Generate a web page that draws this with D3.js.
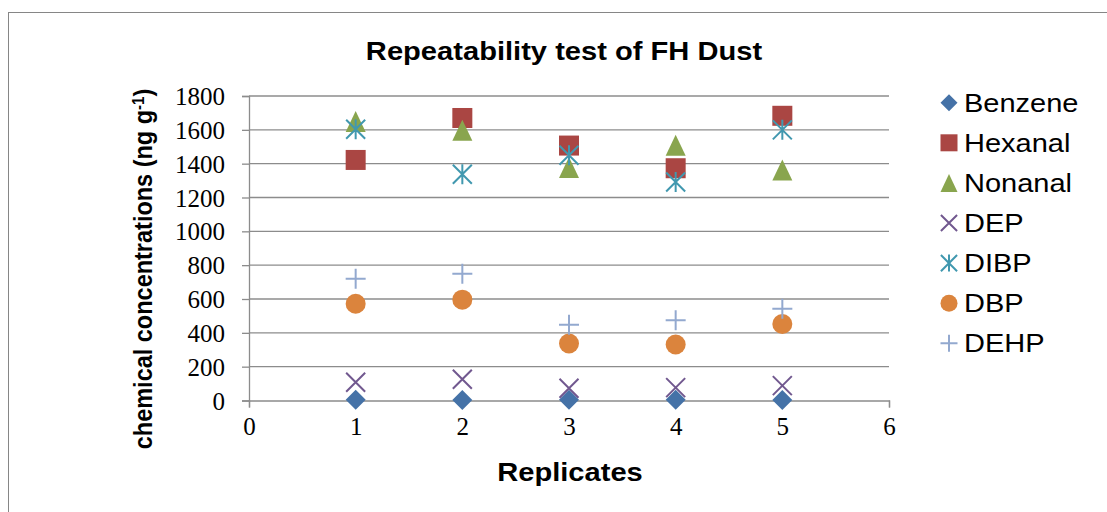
<!DOCTYPE html>
<html>
<head>
<meta charset="utf-8">
<script src="https://cdn.jsdelivr.net/npm/d3@7/dist/d3.min.js"></script>
<style>
  html, body { margin: 0; padding: 0; background: #fff; }
  svg { display: block; }
</style>
</head>
<body>
<div id="chart"></div>
<script>
// Replicate numbers and measured concentrations (ng g-1) per compound
const replicates = [1, 2, 3, 4, 5];
const benzene = [4, 3, 5, 4, 3];
const hexanal = [1422, 1670, 1507, 1373, 1683];
const nonanal = [1650, 1598, 1377, 1509, 1363];
const dep     = [108, 126, 72, 76, 88];
const dibp    = [1603, 1337, 1450, 1292, 1600];
const dbp     = [572, 596, 337, 331, 452];
const dehp    = [719, 750, 448, 475, 543];

const seriesNames = ["Benzene", "Hexanal", "Nonanal", "DEP", "DIBP", "DBP", "DEHP"];
const seriesValues = [benzene, hexanal, nonanal, dep, dibp, dbp, dehp];
const seriesColors = ["#4572A7", "#AA4643", "#89A54E", "#71588F", "#4198AF", "#DB843D", "#93A9CF"];
const seriesShapes = ["diamond", "square", "triangle", "cross", "star", "circle", "plus"];

const xTicks = [0, 1, 2, 3, 4, 5, 6];
const yTicks = [0, 200, 400, 600, 800, 1000, 1200, 1400, 1600, 1800];

const W = 1107, H = 512;
const sans = "'Liberation Sans', Arial, sans-serif";
const serif = "'Liberation Serif', 'Times New Roman', serif";
const stretch = 1.12;
const legendStretch = 1.16;

const svg = d3.select("#chart").append("svg")
  .attr("width", W).attr("height", H);

// outer chart frame
svg.append("rect")
  .attr("x", 8.5).attr("y", 12.5)
  .attr("width", W + 20).attr("height", H + 20)
  .attr("fill", "#fff").attr("stroke", "#868686").attr("stroke-width", 1);

const x = d3.scaleLinear().domain([0, 6]).range([249, 889]);
const y = d3.scaleLinear().domain([0, 1800]).range([400.5, 96]);

// horizontal gridlines
svg.append("g")
  .selectAll("line")
  .data(yTicks.filter(t => t > 0))
  .join("line")
  .attr("x1", x(0)).attr("x2", x(6))
  .attr("y1", d => y(d)).attr("y2", d => y(d))
  .attr("stroke", "#8C8C8C").attr("stroke-width", 1.3);

// y axis
const yAxis = svg.append("g")
  .attr("transform", `translate(${x(0)},0)`)
  .call(d3.axisLeft(y).tickValues(yTicks).tickSize(7).tickPadding(17).tickFormat(d3.format("d")));
yAxis.select(".domain").attr("stroke", "#8C8C8C").attr("stroke-width", 1.3);
yAxis.selectAll(".tick line").attr("stroke", "#8C8C8C").attr("stroke-width", 1.3);
yAxis.selectAll(".tick text")
  .attr("font-family", serif).attr("font-size", 25).attr("fill", "#000")
  .attr("dy", "0.34em");

// x axis
const xAxis = svg.append("g")
  .attr("transform", `translate(0,${y(0)})`)
  .call(d3.axisBottom(x).tickValues(xTicks).tickSize(7).tickPadding(10).tickFormat(d3.format("d")));
xAxis.select(".domain").attr("stroke", "#8C8C8C").attr("stroke-width", 1.3);
xAxis.selectAll(".tick line").attr("stroke", "#8C8C8C").attr("stroke-width", 1.3);
xAxis.selectAll(".tick text")
  .attr("font-family", serif).attr("font-size", 25).attr("fill", "#000")
  .attr("dy", "0.71em");

// marker drawing
function drawMarker(g, shape, color, s) {
  const h = s / 2;
  if (shape === "diamond") {
    g.append("path").attr("d", `M0,${-h}L${h},0L0,${h}L${-h},0Z`).attr("fill", color);
  } else if (shape === "square") {
    g.append("rect").attr("x", -h).attr("y", -h).attr("width", s).attr("height", s).attr("fill", color);
  } else if (shape === "triangle") {
    g.append("path").attr("d", `M0,${-h - 0.5}L${h},${h + 0.5}L${-h},${h + 0.5}Z`).attr("fill", color);
  } else if (shape === "circle") {
    g.append("circle").attr("r", h).attr("fill", color);
  } else if (shape === "cross") {
    const k = h * 0.95;
    g.append("path").attr("d", `M${-k},${-k}L${k},${k}M${k},${-k}L${-k},${k}`)
      .attr("stroke", color).attr("stroke-width", 2).attr("fill", "none");
  } else if (shape === "star") {
    const k = h * 0.95;
    g.append("path").attr("d", `M${-k},${-k}L${k},${k}M${k},${-k}L${-k},${k}M0,${-h}L0,${h}`)
      .attr("stroke", color).attr("stroke-width", 2).attr("fill", "none");
  } else if (shape === "plus") {
    g.append("path").attr("d", `M${-h},0L${h},0M0,${-h}L0,${h}`)
      .attr("stroke", color).attr("stroke-width", 2).attr("fill", "none");
  }
}

// data markers
seriesNames.forEach((name, i) => {
  const grp = svg.append("g").attr("class", "series");
  seriesValues[i].forEach((v, j) => {
    const m = grp.append("g").attr("transform", `translate(${x(replicates[j])},${y(v)})`);
    drawMarker(m, seriesShapes[i], seriesColors[i], 20);
  });
});

// legend
const legend = svg.append("g");
seriesNames.forEach((name, i) => {
  const cy = 102.7 + i * 40.1;
  const m = legend.append("g").attr("transform", `translate(949,${cy})`);
  drawMarker(m, seriesShapes[i], seriesColors[i], 17);
  legend.append("text")
    .attr("transform", `translate(964,${cy + 9}) scale(${legendStretch},1)`)
    .attr("font-family", sans).attr("font-size", 25).attr("fill", "#000")
    .text(name);
});

// title
svg.append("text")
  .attr("transform", `translate(564,60) scale(${stretch},1)`)
  .attr("text-anchor", "middle")
  .attr("font-family", sans).attr("font-size", 26).attr("font-weight", "bold")
  .text("Repeatability test of FH Dust");

// x axis title
svg.append("text")
  .attr("transform", `translate(570,481) scale(${stretch},1)`)
  .attr("text-anchor", "middle")
  .attr("font-family", sans).attr("font-size", 26).attr("font-weight", "bold")
  .text("Replicates");

// y axis title
const yTitle = svg.append("text")
  .attr("transform", `translate(152,269) rotate(-90) scale(1,${stretch})`)
  .attr("text-anchor", "middle")
  .attr("font-family", sans).attr("font-size", 23.5).attr("font-weight", "bold");
yTitle.append("tspan").text("chemical concentrations (ng g");
yTitle.append("tspan").attr("font-size", 15).attr("baseline-shift", "super").text("-1");
yTitle.append("tspan").text(")");
</script>
</body>
</html>
